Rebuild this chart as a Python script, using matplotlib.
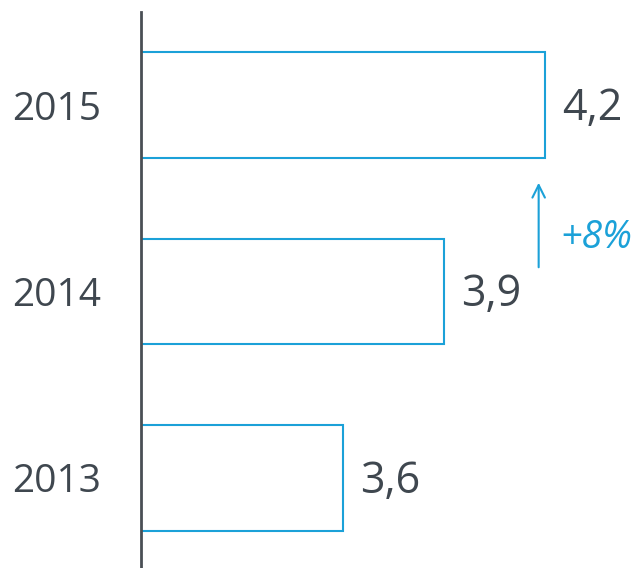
import matplotlib.pyplot as plt

# Data
years = ["2013", "2014", "2015"]
values = [3.6, 3.9, 4.2]
growth_label = "+8%"

blue = "#1ba1d8"
text_grey = "#3f474f"

fig = plt.figure(figsize=(6.36, 5.68), dpi=100)
ax = fig.add_axes([141 / 636, 0, 1 - 141 / 636, 556 / 568])

ypos = list(range(len(years)))
ax.barh(ypos, [v - 3.0 for v in values], left=3.0, height=0.568,
        facecolor="none", edgecolor=blue, linewidth=1.5)

ax.set_xlim(3.0, 3.0 + 495 / 337)
ax.set_ylim(-0.483, 2.499)

# Value labels
for y, v in zip(ypos, values):
    ax.text(v + 0.05, y - 0.02, f"{v:.1f}".replace(".", ","), ha="left",
            va="center", fontsize=31, color=text_grey, family="Open Sans")

# Year labels
ax.set_yticks(ypos)
ax.set_yticklabels(years, fontsize=28, color=text_grey, family="Open Sans",
                   va="center_baseline")
ax.tick_params(axis="y", length=0, pad=29)
ax.set_xticks([])

for side in ["top", "right", "bottom"]:
    ax.spines[side].set_visible(False)
ax.spines["left"].set_color("#4a4f55")
ax.spines["left"].set_linewidth(2)

# Growth arrow
ax.annotate("", xy=(4.18, 1.598), xytext=(4.18, 1.115),
            arrowprops=dict(arrowstyle="->,head_length=0.9,head_width=0.45",
                            color=blue, lw=1.5))
ax.text(4.245, 1.285, growth_label, ha="left", va="center", fontsize=27,
        color=blue, style="italic", family="Open Sans")

fig.savefig("out.png", dpi=100)
